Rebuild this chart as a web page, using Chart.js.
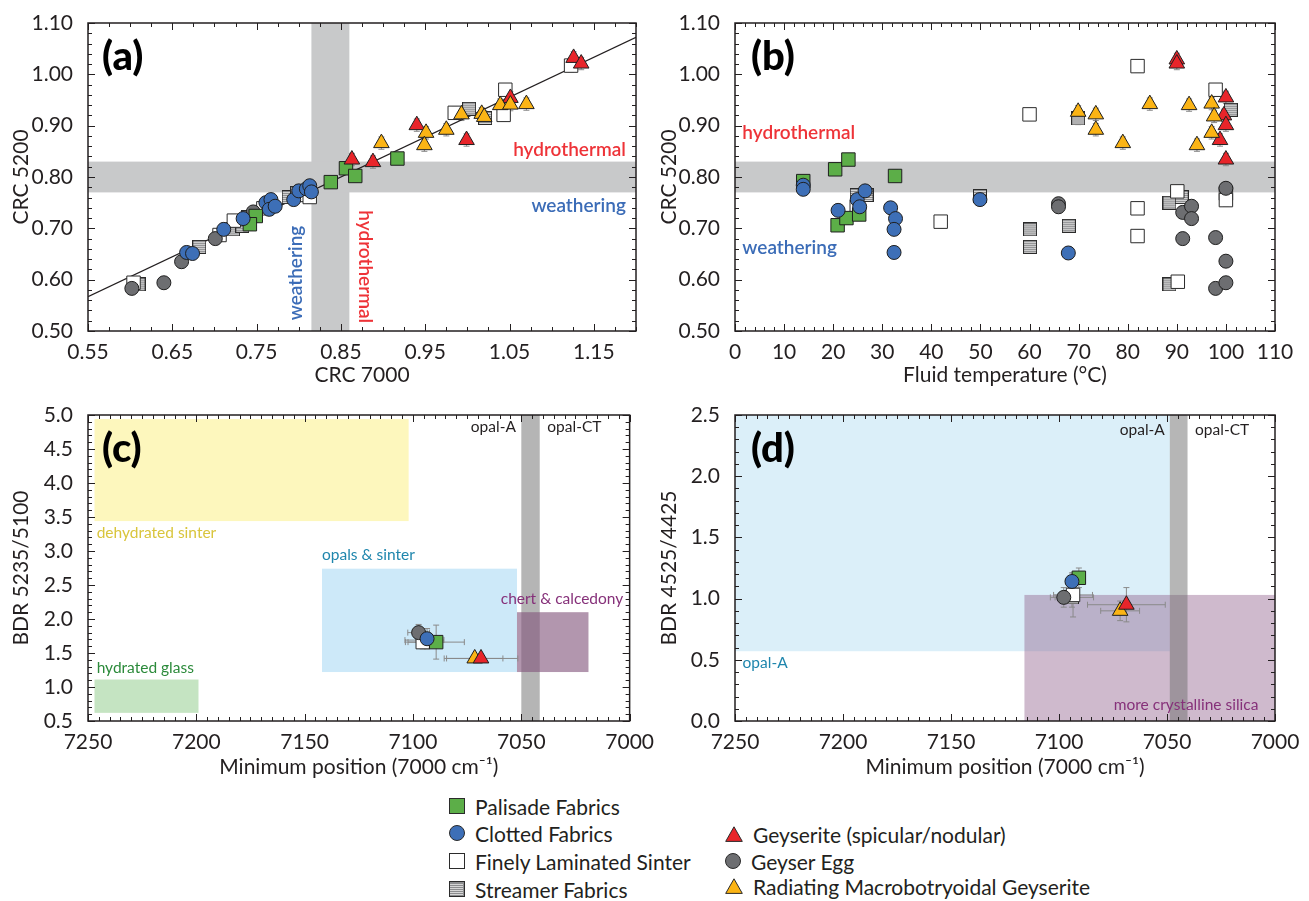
<!DOCTYPE html>
<html><head><meta charset="utf-8">
<script src="https://cdn.jsdelivr.net/npm/chart.js@4.4.1/dist/chart.umd.min.js"></script>
<style>
html,body{margin:0;padding:0;background:#fff;}
body{width:1309px;height:901px;overflow:hidden;position:relative;font-family:Lato,'Open Sans',sans-serif;color:#231f20;}
.pnl{position:absolute;}
.lg{position:absolute;display:flex;align-items:center;font-size:21px;white-space:nowrap;height:26px;}
.lg svg{margin-right:10px;}
</style></head><body>
<div class="pnl" style="left:0;top:0"><canvas id="cA" width="655" height="392"></canvas></div>
<div class="pnl" style="left:655px;top:0"><canvas id="cB" width="654" height="392"></canvas></div>
<div class="pnl" style="left:0;top:392px"><canvas id="cC" width="655" height="400"></canvas></div>
<div class="pnl" style="left:655px;top:392px"><canvas id="cD" width="654" height="400"></canvas></div>
<div id="legend"></div>
<script>
// ---------------- DATA ----------------
const seriesNames = ['Palisade Fabrics','Clotted Fabrics','Finely Laminated Sinter','Streamer Fabrics',
  'Geyserite (spicular/nodular)','Geyser Egg','Radiating Macrobotryoidal Geyserite'];

// (a) CRC 7000 vs CRC 5200  [x, y]
const aPalisade = [[0.749,0.724],[0.742,0.708],[0.838,0.790],[0.856,0.817],[0.867,0.802],[0.917,0.836]];
const aClotted = [[0.667,0.653],[0.674,0.651],[0.711,0.698],[0.734,0.719],[0.761,0.750],[0.767,0.756],[0.765,0.737],
  [0.772,0.743],[0.794,0.756],[0.800,0.773],[0.809,0.777],[0.813,0.783],[0.815,0.771]];
const aFinely = [[0.604,0.594],[0.706,0.687],[0.723,0.715],[0.758,0.739],[0.803,0.765],[0.813,0.761],
  [0.985,0.925],[1.043,0.921],[1.045,0.970],[1.123,1.017]];
const aStreamer = [[0.610,0.591],[0.682,0.664],[0.722,0.698],[0.733,0.705],[0.740,0.722],[0.788,0.761],
  [0.798,0.769],[1.002,0.933],[1.021,0.915]];
const aGeyserite = [[0.863,0.834],[0.888,0.829],[0.940,0.901],[0.999,0.872],[1.051,0.954],[1.126,1.032],[1.135,1.021]];
const aEgg = [[0.602,0.583],[0.640,0.594],[0.661,0.635],[0.701,0.680],[0.746,0.732]];
const aRadiating = [[0.898,0.866],[0.951,0.886],[0.949,0.862],[0.975,0.892],[0.993,0.922],[1.017,0.923],
  [1.020,0.917],[1.039,0.940],[1.051,0.941],[1.070,0.942]];
const aFitLine = [[0.55,0.567],[1.20,1.072]];
const abErr = 0.012;

// (b) Fluid temperature vs CRC 5200
const bPalisade = [[13.9,0.792],[20.4,0.815],[23.1,0.834],[20.9,0.706],[22.7,0.720],[25.3,0.727],[32.6,0.802]];
const bClotted = [[13.9,0.784],[13.9,0.776],[21.0,0.735],[24.9,0.756],[25.4,0.742],[26.5,0.773],[31.7,0.740],
  [32.7,0.719],[32.4,0.698],[32.4,0.653],[49.9,0.756],[67.9,0.652]];
const bFinely = [[24.8,0.742],[41.9,0.713],[60.0,0.922],[82.0,1.016],[82.0,0.739],[82.0,0.685],[90.1,0.772],
  [90.2,0.596],[97.9,0.970],[100,0.768],[100,0.755]];
const bStreamer = [[24.8,0.765],[26.8,0.765],[49.9,0.763],[60.1,0.698],[60.1,0.664],[68.0,0.705],[69.9,0.914],
  [88.5,0.750],[91.0,0.761],[88.5,0.591],[101,0.931]];
const bGeyserite = [[90,1.029],[90,1.021],[100,0.955],[99.6,0.920],[100,0.901],[98.8,0.872],[100,0.834]];
const bEgg = [[65.9,0.748],[65.9,0.742],[91.2,0.731],[93.0,0.743],[93.0,0.719],[91.2,0.680],[97.9,0.682],
  [97.9,0.583],[100,0.594],[100,0.636],[100,0.778]];
const bRadiating = [[69.9,0.927],[73.5,0.922],[73.5,0.892],[79.0,0.866],[84.5,0.942],[92.5,0.940],[94.1,0.862],
  [97.1,0.943],[97.6,0.918],[97.1,0.886]];

// (c) Minimum position vs BDR 5235/5100  [x, y, xErr, yErr]
const cPalisade = [[7089.3,1.66,13,0.25]];
const cClotted = [[7093.5,1.71,4,0.15]];
const cFinely = [[7095.5,1.66,8,0.10]];
const cStreamer = [[7094.7,1.69,9,0.10]];
const cGeyserite = [[7068.6,1.42,17,0.05]];
const cEgg = [[7097.4,1.80,5,0.12]];
const cRadiating = [[7071.5,1.42,13,0.05]];

// (d) Minimum position vs BDR 4525/4425  [x, y, xErr, yErr]
const dPalisade = [[7090.8,1.17,3,0.08]];
const dClotted = [[7094.0,1.14,3,0.07]];
const dFinely = [[7093.5,1.03,9,0.18]];
const dStreamer = [[7094.0,1.01,10,0.08]];
const dGeyserite = [[7068.8,0.95,18,0.14]];
const dEgg = [[7097.8,1.01,4,0.08]];
const dRadiating = [[7071.7,0.90,9,0.08]];

// tick labels
const aXTicks = [0.55,0.65,0.75,0.85,0.95,1.05,1.15];
const abYTicks = [0.50,0.60,0.70,0.80,0.90,1.00,1.10];
const bXTicks = [0,10,20,30,40,50,60,70,80,90,100,110];
const cdXTicks = [7250,7200,7150,7100,7050,7000];
const cYTicks = [0.5,1.0,1.5,2.0,2.5,3.0,3.5,4.0,4.5,5.0];
const dYTicks = [0.0,0.5,1.0,1.5,2.0,2.5];

// reference ranges
const aBands = {x:[0.815,0.86], y:[0.77,0.83]};
const bBand = {y:[0.77,0.83]};
const cBoxes = {dehydrated:[7247,7102,3.44,4.94], glass:[7247,7199,0.62,1.11], opals:[7142,7052,1.22,2.74],
  opalCT:[7050,7041.5], chert:[7052,7019,1.22,2.10]};
const dBoxes = {opalA:[7250,7048.7,0.57,2.5], crystalline:[7116,7000,0,1.03], opalCT:[7048.7,7040.5]};

// ---------------- STYLE ----------------
const FONT = "Lato, 'Open Sans', sans-serif";
const INK = '#231f20';
function streamerImg(s){
  const c=document.createElement('canvas'); c.width=s; c.height=s;
  const g=c.getContext('2d');
  g.fillStyle='#8c8d8f'; g.fillRect(0,0,s,s);
  g.fillStyle='#d6d6d6';
  for(let y=2;y<s-1;y+=2){ g.fillRect(1,y,s-2,1); }
  g.strokeStyle='#2b2b2b'; g.lineWidth=1; g.strokeRect(0.5,0.5,s-1,s-1);
  return c;
}
const STREAM = streamerImg(14);
const STY = {
  Palisade:{pointStyle:'rect',backgroundColor:'#5cae48',borderColor:'#1f1f1f',pointRadius:9.5},
  Clotted:{pointStyle:'circle',backgroundColor:'#3d6fb7',borderColor:'#1f1f1f',pointRadius:7},
  Finely:{pointStyle:'rect',backgroundColor:'#ffffff',borderColor:'#2b2b2b',pointRadius:9.5},
  Streamer:{pointStyle:STREAM,backgroundColor:'#8c8d8f',borderColor:'#2b2b2b',pointRadius:7},
  Geyserite:{pointStyle:'triangle',backgroundColor:'#e8252a',borderColor:'#1f1f1f',pointRadius:9},
  Egg:{pointStyle:'circle',backgroundColor:'#6d6e71',borderColor:'#1f1f1f',pointRadius:7},
  Radiating:{pointStyle:'triangle',backgroundColor:'#fbb415',borderColor:'#1f1f1f',pointRadius:9}
};

function ds(key, arr, errX, errY){
  const s = STY[key];
  return Object.assign({label:key, data: arr.map(p=>({x:p[0],y:p[1]})), borderWidth:1,
     errX: arr.map(p=> p.length>2 ? p[2] : (errX||0)),
     errY: arr.map(p=> p.length>3 ? p[3] : (errY||0))}, s);
}

// ---------------- PLUGINS ----------------
const regionPlugin = {
  id:'regions',
  beforeDatasetsDraw(chart, args, opts){
    const {ctx, chartArea:ca, scales:{x,y}} = chart;
    ctx.save();
    ctx.beginPath(); ctx.rect(ca.left,ca.top,ca.width,ca.height); ctx.clip();
    (opts.items||[]).forEach(r=>{
      const x0 = r.x0==null ? ca.left : x.getPixelForValue(r.x0);
      const x1 = r.x1==null ? ca.right : x.getPixelForValue(r.x1);
      const y0 = r.y0==null ? ca.bottom : y.getPixelForValue(r.y0);
      const y1 = r.y1==null ? ca.top : y.getPixelForValue(r.y1);
      ctx.fillStyle = r.color;
      ctx.fillRect(Math.min(x0,x1), Math.min(y0,y1), Math.abs(x1-x0), Math.abs(y1-y0));
    });
    ctx.strokeStyle='#8a8a8a'; ctx.lineWidth=1;
    chart.data.datasets.forEach((d)=>{
      if(!d.errY) return;
      d.data.forEach((p,i)=>{
        const px=x.getPixelForValue(p.x), py=y.getPixelForValue(p.y);
        const ex=d.errX[i], ey=d.errY[i];
        ctx.beginPath();
        if(ey){ const a=y.getPixelForValue(p.y+ey), b=y.getPixelForValue(p.y-ey);
          ctx.moveTo(px,a); ctx.lineTo(px,b); ctx.moveTo(px-3,a); ctx.lineTo(px+3,a); ctx.moveTo(px-3,b); ctx.lineTo(px+3,b); }
        if(ex){ const a=x.getPixelForValue(p.x+ex), b=x.getPixelForValue(p.x-ex);
          ctx.moveTo(a,py); ctx.lineTo(b,py); ctx.moveTo(a,py-3); ctx.lineTo(a,py+3); ctx.moveTo(b,py-3); ctx.lineTo(b,py+3); }
        ctx.stroke();
      });
    });
    ctx.restore();
  }
};
const framePlugin = {
  id:'frame',
  afterDraw(chart, args, opts){
    const {ctx, chartArea:ca, scales:{x,y}} = chart;
    ctx.save();
    ctx.strokeStyle=INK; ctx.lineWidth=1.5;
    ctx.strokeRect(ca.left,ca.top,ca.width,ca.height);
    ctx.lineWidth=1;
    const drawAxis=(sc, step, horiz)=>{
      const lo=Math.min(sc.min,sc.max), hi=Math.max(sc.min,sc.max);
      const majors = sc.ticks.map(t=>t.value);
      for(let i=0;;i++){
        const v = lo + i*step; if(v>hi+1e-9) break;
        const isMaj = majors.some(m=>Math.abs(m-v)<step*0.01);
        const L = isMaj?7:4;
        const p = Math.round(sc.getPixelForValue(v))+0.5;
        ctx.beginPath();
        if(horiz){ ctx.moveTo(p,ca.bottom); ctx.lineTo(p,ca.bottom-L); ctx.moveTo(p,ca.top); ctx.lineTo(p,ca.top+L); }
        else { ctx.moveTo(ca.left,p); ctx.lineTo(ca.left+L,p); ctx.moveTo(ca.right,p); ctx.lineTo(ca.right-L,p); }
        ctx.stroke();
      }
    };
    drawAxis(x, opts.xMinor, true);
    drawAxis(y, opts.yMinor, false);
    ctx.restore();
  }
};
const notesPlugin = {
  id:'notes',
  afterDatasetsDraw(chart, args, opts){
    const {ctx, chartArea:ca, scales:{x,y}} = chart;
    ctx.save();
    (opts.items||[]).forEach(n=>{
      const px = n.px!=null ? ca.left+n.px : x.getPixelForValue(n.x);
      const py = n.py!=null ? ca.top+n.py : y.getPixelForValue(n.y);
      ctx.save();
      ctx.translate(px,py); if(n.rot) ctx.rotate(n.rot);
      ctx.font = n.font; ctx.fillStyle=n.color; ctx.textAlign=n.align||'left'; ctx.textBaseline='middle';
      ctx.fillText(n.text,0,0);
      ctx.restore();
    });
    ctx.restore();
  }
};

function axis(opt){
  return {
    type:'linear', min:opt.min, max:opt.max, reverse:!!opt.reverse,
    afterBuildTicks: s=>{ s.ticks = opt.ticks.map(v=>({value:v})); },
    afterFit: s=>{ if(opt.w!=null) s.width=opt.w; if(opt.h!=null) s.height=opt.h; },
    ticks:{ callback: v=>Number(v).toFixed(opt.dec), font:{family:FONT,size:21}, color:INK, padding:opt.pad, maxRotation:0, autoSkip:false},
    grid:{display:false}, border:{display:false},
    title:{display:true, text:opt.title, font:{family:FONT,size:21}, color:INK, padding:opt.tpad}
  };
}
function makeChart(id, datasets, scales, pad, plugs){
  return new Chart(document.getElementById(id), {
    type:'scatter',
    data:{datasets},
    options:{
      responsive:false, animation:false, events:[],
      layout:{padding:pad},
      scales,
      plugins:Object.assign({legend:{display:false}, tooltip:{enabled:false}}, plugs)
    },
    plugins:[regionPlugin, framePlugin, notesPlugin]
  });
}
const lblFont = "900 40px "+FONT;
const noteFont = "600 19px "+FONT;
const smallFont = "15.5px "+FONT;

// (a)
makeChart('cA', [
  ds('Radiating',aRadiating,0,abErr), ds('Geyserite',aGeyserite,0,abErr), ds('Clotted',aClotted,0,abErr),
  ds('Palisade',aPalisade,0,abErr), ds('Egg',aEgg,0,abErr), ds('Finely',aFinely,0,abErr), ds('Streamer',aStreamer,0,abErr),
  {label:'fit', data:aFitLine.map(p=>({x:p[0],y:p[1]})), showLine:true, pointRadius:0, borderColor:INK, borderWidth:1.2}
],{
  x: axis({min:0.55,max:1.20,ticks:aXTicks,dec:2,pad:1,h:61,title:'CRC 7000',tpad:{top:0,bottom:4}}),
  y: axis({min:0.50,max:1.10,ticks:abYTicks,dec:2,pad:7,w:88,title:'CRC 5200',tpad:{top:9,bottom:0}})
},{top:23,right:19,left:0,bottom:0},{
  regions:{items:[{x0:aBands.x[0],x1:aBands.x[1],color:'#c8c9ca'},{y0:aBands.y[0],y1:aBands.y[1],color:'#c8c9ca'}]},
  frame:{xMinor:0.025,yMinor:0.02},
  notes:{items:[
    {text:'(a)',px:14,py:34,font:lblFont,color:'#000'},
    {text:'hydrothermal',x:1.188,y:0.852,align:'right',font:noteFont,color:'#ee3338'},
    {text:'weathering',x:1.188,y:0.743,align:'right',font:noteFont,color:'#3b6cb7'},
    {text:'weathering',x:0.797,y:0.521,align:'left',rot:-Math.PI/2,font:noteFont,color:'#3b6cb7'},
    {text:'hydrothermal',x:0.879,y:0.735,align:'left',rot:Math.PI/2,font:noteFont,color:'#ee3338'}
  ]}
});

// (b)
makeChart('cB', [
  ds('Radiating',bRadiating,0,abErr), ds('Geyserite',bGeyserite,0,abErr), ds('Clotted',bClotted,0,abErr),
  ds('Palisade',bPalisade,0,abErr), ds('Egg',bEgg,0,abErr), ds('Finely',bFinely,0,abErr), ds('Streamer',bStreamer,0,abErr)
],{
  x: axis({min:0,max:110,ticks:bXTicks,dec:0,pad:1,h:61,title:'Fluid temperature (°C)',tpad:{top:0,bottom:4}}),
  y: axis({min:0.50,max:1.10,ticks:abYTicks,dec:2,pad:7,w:80,title:'CRC 5200',tpad:{top:2,bottom:0}})
},{top:23,right:34,left:0,bottom:0},{
  regions:{items:[{y0:bBand.y[0],y1:bBand.y[1],color:'#c8c9ca'}]},
  frame:{xMinor:2,yMinor:0.02},
  notes:{items:[
    {text:'(b)',px:16,py:34,font:lblFont,color:'#000'},
    {text:'hydrothermal',x:1.5,y:0.885,align:'left',font:noteFont,color:'#ee3338'},
    {text:'weathering',x:1.5,y:0.662,align:'left',font:noteFont,color:'#3b6cb7'}
  ]}
});

// (c)
const cb=cBoxes;
makeChart('cC', [
  ds('Geyserite',cGeyserite), ds('Radiating',cRadiating), ds('Clotted',cClotted), ds('Egg',cEgg),
  ds('Palisade',cPalisade), ds('Finely',cFinely), ds('Streamer',cStreamer)
],{
  x: axis({min:7000,max:7250,reverse:true,ticks:cdXTicks,dec:0,pad:1,h:71,title:'Minimum position (7000 cm⁻¹)',tpad:{top:0,bottom:12}}),
  y: axis({min:0.5,max:5.0,ticks:cYTicks,dec:1,pad:7,w:88,title:'BDR 5235/5100',tpad:{top:9,bottom:0}})
},{top:23,right:19,left:0,bottom:0},{
  regions:{items:[
    {x0:cb.dehydrated[0],x1:cb.dehydrated[1],y0:cb.dehydrated[2],y1:cb.dehydrated[3],color:'#fdf7bd'},
    {x0:cb.glass[0],x1:cb.glass[1],y0:cb.glass[2],y1:cb.glass[3],color:'#c5e4c2'},
    {x0:cb.opals[0],x1:cb.opals[1],y0:cb.opals[2],y1:cb.opals[3],color:'#cde9f9'},
    {x0:cb.opalCT[0],x1:cb.opalCT[1],color:'rgba(120,120,120,0.55)'},
    {x0:cb.chert[0],x1:cb.chert[1],y0:cb.chert[2],y1:cb.chert[3],color:'rgba(130,85,125,0.62)'}
  ]},
  frame:{xMinor:5,yMinor:0.1},
  notes:{items:[
    {text:'(c)',px:14,py:34,font:lblFont,color:'#000'},
    {text:'opal-A',x:7052.5,y:4.83,align:'right',font:smallFont,color:INK},
    {text:'opal-CT',x:7038,y:4.83,align:'left',font:smallFont,color:INK},
    {text:'dehydrated sinter',x:7246,y:3.27,align:'left',font:smallFont,color:'#d9c53c'},
    {text:'opals & sinter',x:7142,y:2.94,align:'left',font:smallFont,color:'#1f86ad'},
    {text:'chert & calcedony',x:7059.5,y:2.29,align:'left',font:smallFont,color:'#86317a'},
    {text:'hydrated glass',x:7246,y:1.285,align:'left',font:smallFont,color:'#2b8a3a'}
  ]}
});

// (d)
const dbx=dBoxes;
makeChart('cD', [
  ds('Geyserite',dGeyserite), ds('Radiating',dRadiating), ds('Clotted',dClotted), ds('Palisade',dPalisade),
  ds('Egg',dEgg), ds('Finely',dFinely), ds('Streamer',dStreamer)
],{
  x: axis({min:7000,max:7250,reverse:true,ticks:cdXTicks,dec:0,pad:1,h:71,title:'Minimum position (7000 cm⁻¹)',tpad:{top:0,bottom:12}}),
  y: axis({min:0,max:2.5,ticks:dYTicks,dec:1,pad:7,w:80,title:'BDR 4525/4425',tpad:{top:2,bottom:0}})
},{top:23,right:34,left:0,bottom:0},{
  regions:{items:[
    {x0:dbx.opalA[0],x1:dbx.opalA[1],y0:dbx.opalA[2],y1:dbx.opalA[3],color:'#dbeff9'},
    {x0:dbx.crystalline[0],x1:dbx.crystalline[1],y0:dbx.crystalline[2],y1:dbx.crystalline[3],color:'rgba(140,90,135,0.42)'},
    {x0:dbx.opalCT[0],x1:dbx.opalCT[1],color:'rgba(110,110,110,0.5)'}
  ]},
  frame:{xMinor:5,yMinor:0.1},
  notes:{items:[
    {text:'(d)',px:16,py:34,font:lblFont,color:'#000'},
    {text:'opal-A',x:7051,y:2.38,align:'right',font:smallFont,color:INK},
    {text:'opal-CT',x:7037,y:2.38,align:'left',font:smallFont,color:INK},
    {text:'opal-A',x:7246.5,y:0.477,align:'left',font:smallFont,color:'#1f86ad'},
    {text:'more crystalline silica',x:7007.7,y:0.128,align:'right',font:smallFont,color:'#86317a'}
  ]}
});

// ---------------- LEGEND ----------------
const lgPos = [[449,806],[449,833],[449,861],[449,889],[725,834],[725,861],[725,886]];
const lgKeys = ['Palisade','Clotted','Finely','Streamer','Geyserite','Egg','Radiating'];
function markerSVG(k){
  const s=STY[k];
  if(k==='Streamer'){
    let st=''; for(let y=3;y<14;y+=2) st+=`<rect x="1" y="${y}" width="13" height="1" fill="#d6d6d6"/>`;
    return `<svg width="16" height="16"><rect x="0.5" y="0.5" width="15" height="15" fill="#8c8d8f" stroke="#2b2b2b"/>${st}<rect x="0.5" y="0.5" width="15" height="15" fill="none" stroke="#2b2b2b"/></svg>`;
  }
  if(s.pointStyle==='rect') return `<svg width="16" height="16"><rect x="0.5" y="0.5" width="15" height="15" fill="${s.backgroundColor}" stroke="#2b2b2b"/></svg>`;
  if(s.pointStyle==='circle') return `<svg width="16" height="16"><circle cx="8" cy="8" r="7.5" fill="${s.backgroundColor}" stroke="#2b2b2b"/></svg>`;
  return `<svg width="18" height="16"><polygon points="9,0.8 17.3,15.4 0.7,15.4" fill="${s.backgroundColor}" stroke="#2b2b2b"/></svg>`;
}
const lg=document.getElementById('legend');
lgKeys.forEach((k,i)=>{
  const d=document.createElement('div'); d.className='lg';
  d.style.left=lgPos[i][0]+'px'; d.style.top=(lgPos[i][1]-13)+'px';
  d.innerHTML=markerSVG(k)+'<span>'+seriesNames[i]+'</span>';
  lg.appendChild(d);
});
</script>
</body></html>
